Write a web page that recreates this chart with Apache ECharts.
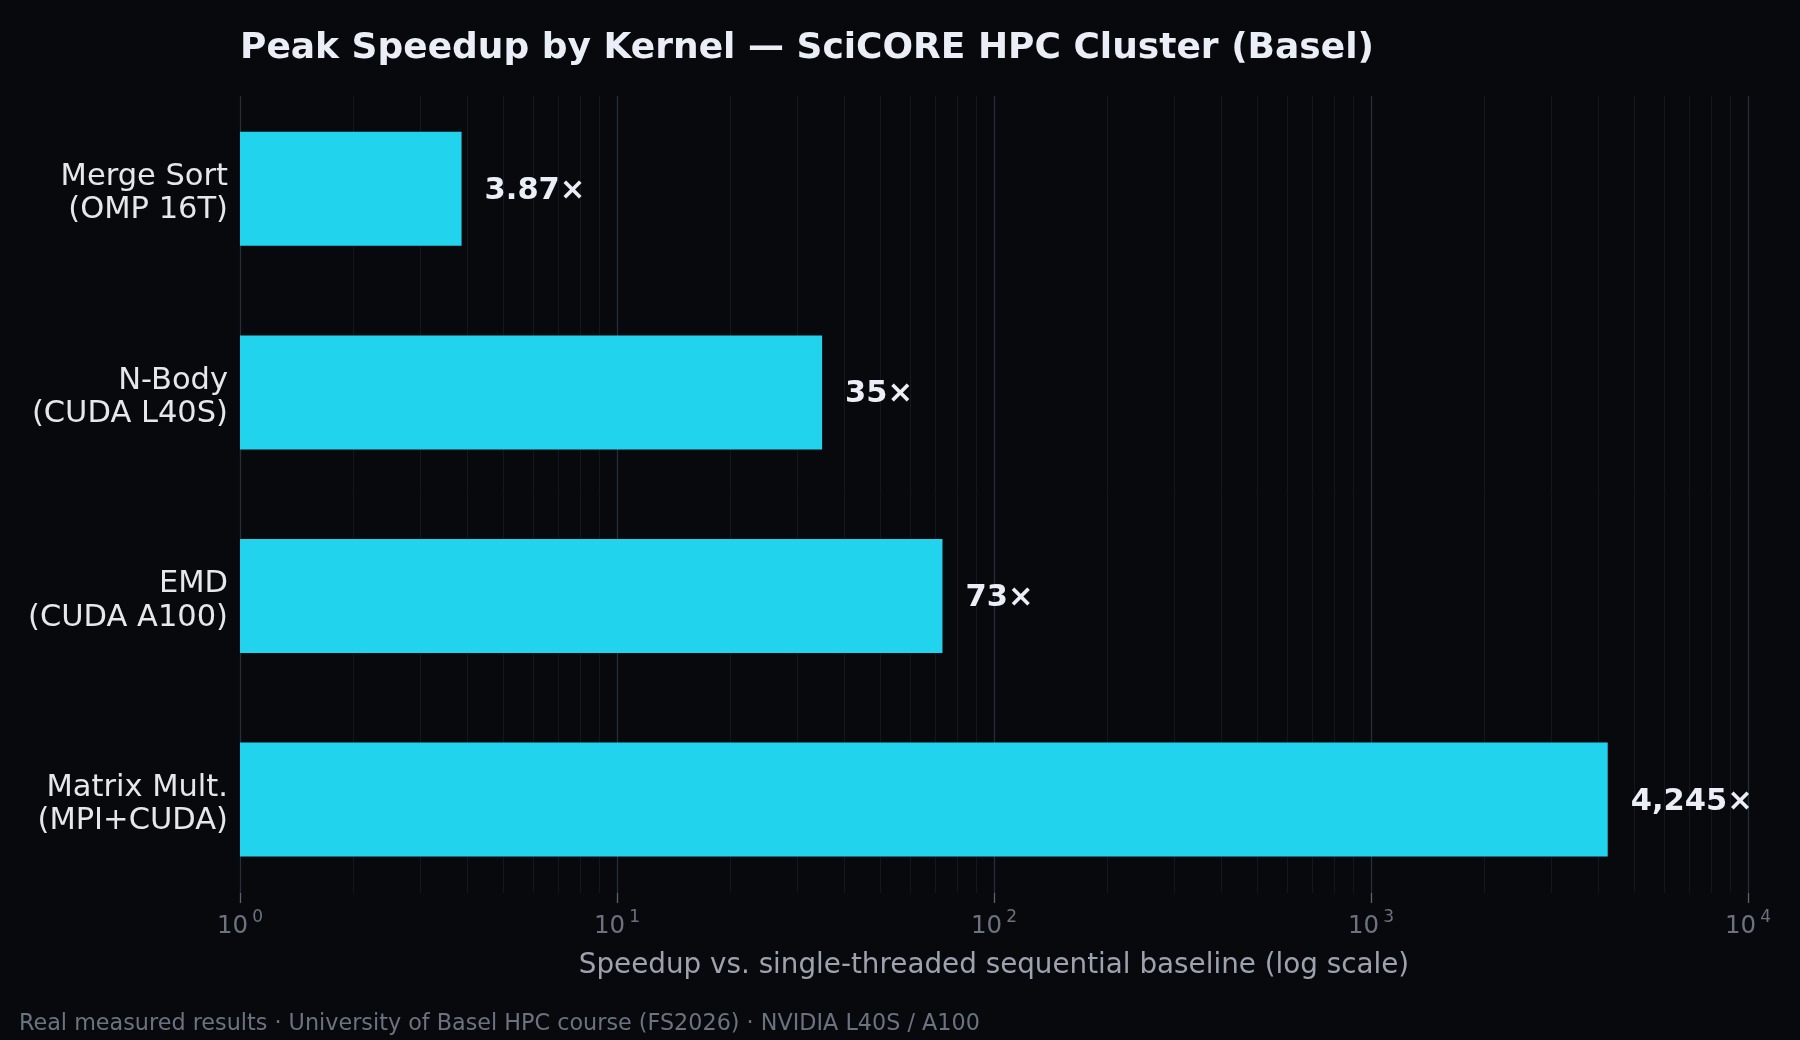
<!DOCTYPE html>
<html><head><meta charset="utf-8">
<script src="https://cdn.jsdelivr.net/npm/echarts@6/dist/echarts.min.js"></script>
<style>html,body{margin:0;padding:0;background:#07090d;} #chart{width:1800px;height:1040px;}</style>
</head><body><div id="chart"></div>
<script>
const categories = ['Merge Sort\n(OMP 16T)', 'N-Body\n(CUDA L40S)', 'EMD\n(CUDA A100)', 'Matrix Mult.\n(MPI+CUDA)'];
const speedups = [3.87, 35, 73, 4245];
const axisMin = 1;
const axisMax = 10000;
const minorGridValues = [2,3,4,5,6,7,8,9, 20,30,40,50,60,70,80,90, 200,300,400,500,600,700,800,900, 2000,3000,4000,5000,6000,7000,8000,9000];

const FONT = "'DejaVu Sans', sans-serif";
const chart = echarts.init(document.getElementById('chart'), null, {renderer: 'canvas'});
function fmtVal(v) {
  return (v < 10 ? v.toFixed(2) : v.toLocaleString('en-US')) + '×';
}
const option = {
  backgroundColor: '#07090d',
  animation: false,
  title: {
    text: 'Peak Speedup by Kernel — SciCORE HPC Cluster (Basel)',
    left: 240, top: 30.5, padding: 0,
    textStyle: {color: '#eaeef6', fontSize: 36, fontWeight: 'bold', fontFamily: FONT}
  },
  grid: [
    {left: 240, right: 52, top: 87, bottom: 138.6},
    {left: 240, right: 52, top: 96, bottom: 147}
  ],
  xAxis: [
    {gridIndex: 0, type: 'log', logBase: 10, min: axisMin, max: axisMax, show: false},
    {
      gridIndex: 1, type: 'log', logBase: 10, min: axisMin, max: axisMax,
      axisLine: {show: false},
      axisTick: {show: true, length: 10, lineStyle: {color: '#5b6272', width: 1.3}},
      splitLine: {show: true, lineStyle: {color: '#282d3a', width: 1.3}},
      axisLabel: {
        margin: 16, color: '#6b7280', fontSize: 24, fontFamily: FONT,
        formatter: function (v) { return '{b|10}{sup|' + Math.round(Math.log10(v)) + '}'; },
        rich: {
          b: {fontSize: 24.5, color: '#6b7280', fontFamily: FONT, lineHeight: 30, verticalAlign: 'bottom'},
          sup: {fontSize: 17, color: '#6b7280', fontFamily: FONT, lineHeight: 30, verticalAlign: 'top', padding: [0, 0, 0, 4]}
        }
      },
      name: 'Speedup vs. single-threaded sequential baseline (log scale)',
      nameLocation: 'middle', nameGap: 59,
      nameTextStyle: {color: '#9ca3af', fontSize: 27.8, fontFamily: FONT}
    }
  ],
  yAxis: [
    {
      gridIndex: 0, type: 'category', data: categories, inverse: true,
      axisLine: {show: false}, axisTick: {show: false}, splitLine: {show: false},
      axisLabel: {
        color: '#e5e7eb', fontSize: 30.5, lineHeight: 33.5, margin: 12, fontFamily: FONT, align: 'right',
        formatter: function (v) { return '{c|' + v.split('\n').join('}\n{c|') + '}'; },
        rich: {c: {fontSize: 30.5, lineHeight: 33.5, color: '#e5e7eb', fontFamily: FONT, align: 'right', padding: [10, 0, 0, 0]}}
      }
    },
    {gridIndex: 1, type: 'value', show: false, min: 0, max: 1}
  ],
  series: [
    {
      type: 'line', xAxisIndex: 1, yAxisIndex: 1, data: [], z: 1, silent: true,
      markLine: {
        silent: true, symbol: 'none', animation: false, z: 1,
        label: {show: false},
        lineStyle: {color: '#13171f', width: 1, type: 'solid'},
        data: minorGridValues.map(function (v) { return {xAxis: v}; })
      }
    },
    {
      type: 'bar', xAxisIndex: 0, yAxisIndex: 0, data: speedups, barWidth: '56%', z: 10,
      itemStyle: {color: '#22d3ee'},
      label: {
        show: true, position: 'right', distance: 23, offset: [0, 2],
        formatter: function (p) { return fmtVal(p.value); },
        color: '#eaeef6', fontSize: 30.5, fontWeight: 'bold', fontFamily: FONT
      }
    }
  ],
  graphic: [{
    type: 'text', left: 19, top: 1013,
    style: {text: 'Real measured results · University of Basel HPC course (FS2026) · NVIDIA L40S / A100', fill: '#6b7280', fontSize: 22.3, fontFamily: FONT}
  }]
};
chart.setOption(option);
</script></body></html>
